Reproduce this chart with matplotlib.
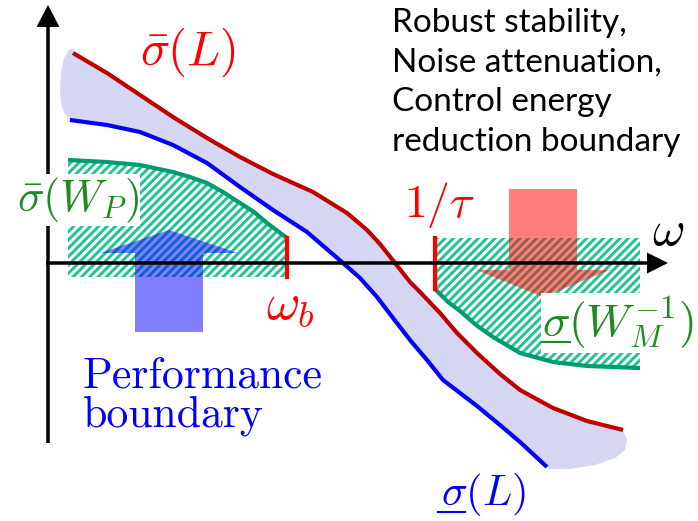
import numpy as np
import matplotlib
matplotlib.use('Agg')
import matplotlib.pyplot as plt
from matplotlib.patches import FancyArrow

plt.rcParams['mathtext.fontset'] = 'cm'
plt.rcParams['hatch.linewidth'] = 2.1

# curves (pixel coords, y downwards)
sig_max_x = [73, 107, 140, 173, 207, 240, 273, 313, 347, 367, 380, 395, 410, 420, 440, 457, 477, 500, 520, 553, 587, 623]
sig_max_y = [53, 73, 95, 117, 138, 157, 174, 192, 213, 230, 244, 263, 282, 292, 313, 333, 353, 374, 390, 408, 421, 430]
sig_min_x = [70, 107, 140, 173, 207, 240, 273, 307, 343, 360, 377, 393, 410, 427, 443, 460, 477, 500, 520, 547]
sig_min_y = [120, 125, 132, 145, 163, 187, 210, 232, 263, 278, 297, 318, 340, 360, 380, 393, 406, 425, 442, 467]
# rounded ends of the shaded band
cap_right_x = [627, 625, 615, 595, 570, 550]
cap_right_y = [440, 450, 458, 465, 469, 469]
cap_left_x = [64, 61, 60, 61, 64, 69, 75]
cap_left_y = [113, 103, 90, 72, 58, 50, 48]

wp_x = [68, 107, 140, 173, 190, 207, 223, 240, 254, 267, 287]
wp_y = [160, 162, 165, 172, 177, 183, 192, 203, 212, 223, 238]
wm_x = [435, 448, 460, 476, 493, 520, 553, 587, 640]
wm_y = [289, 302, 311, 325, 337, 353, 362, 366, 368]

w_b = 287
inv_tau = 435
x_axis_y = 263
hatch_floor = 277
hatch_top = 238
hatch_right = 640

fig = plt.figure(figsize=(6.98, 5.21), dpi=100)
ax = fig.add_axes([0, 0, 1, 1])
ax.set_xlim(0, 698)
ax.set_ylim(521, 0)
ax.axis('off')

# shaded band between the singular values
band_x = sig_max_x + cap_right_x + sig_min_x[::-1] + cap_left_x
band_y = sig_max_y + cap_right_y + sig_min_y[::-1] + cap_left_y
ax.fill(band_x, band_y, color='#d5d6f2', lw=0, zorder=1)

# hatched boundary regions
teal = '#1fc493'
ax.fill(wp_x + [w_b, wp_x[0]], wp_y + [hatch_floor, hatch_floor],
        facecolor='none', edgecolor=teal, hatch='////', lw=0, zorder=2)
ax.fill([inv_tau, hatch_right] + wm_x[::-1], [hatch_top, hatch_top] + wm_y[::-1],
        facecolor='none', edgecolor=teal, hatch='////', lw=0, zorder=2)

# curves
kw = dict(lw=3, zorder=4, solid_capstyle='butt', solid_joinstyle='round')
ax.plot(sig_max_x, sig_max_y, color='#c00000', **kw)
ax.plot(sig_min_x, sig_min_y, color='#0000ff', **kw)
ax.plot(wp_x, wp_y, color='#009b72', **kw)
ax.plot(wm_x, wm_y, color='#009b72', **kw)

# frequency markers
ax.plot([w_b, w_b], [hatch_top, hatch_floor], color='#ff0000', lw=3, zorder=5)
ax.plot([inv_tau, inv_tau], [hatch_top, wm_y[0]], color='#ff0000', lw=3, zorder=5)

# big arrows
ax.add_patch(FancyArrow(169, 332, 0, -102, width=68, head_width=137, head_length=23,
                        length_includes_head=True, color='#0000ff', alpha=0.5, lw=0, zorder=3))
ax.add_patch(FancyArrow(543, 189, 0, 108, width=68, head_width=133, head_length=27,
                        length_includes_head=True, color='#ff0000', alpha=0.5, lw=0, zorder=3))

# axes
ax.add_patch(FancyArrow(48, 443, 0, -438, width=3.5, head_width=23, head_length=22,
                        length_includes_head=True, color='black', lw=0, zorder=6))
ax.add_patch(FancyArrow(46, x_axis_y, 622, 0, width=3.5, head_width=21, head_length=21,
                        length_includes_head=True, color='black', lw=0, zorder=6))

white = dict(facecolor='white', edgecolor='none', pad=1)
ax.text(188, 52, r'$\bar{\sigma}(L)$', color='#ff0000', fontsize=35, ha='center', va='center', zorder=7)
ax.text(78, 200, r'$\bar{\sigma}(W_P)$', color='#1f8a1f', fontsize=32, ha='center', va='center',
        bbox=white, zorder=7)
ax.text(290, 305, r'$\omega_b$', color='#ff0000', fontsize=37, ha='center', va='center', zorder=7)
ax.text(440, 205, r'$1/\tau$', color='#ff0000', fontsize=33, ha='center', va='center', zorder=7)
ax.text(668, 231, r'$\omega$', color='black', fontsize=36, ha='center', va='center', zorder=7)
ax.text(618, 323, r'$\sigma(W_M^{-1})$', color='#1f8a1f', fontsize=33, ha='center', va='center',
        bbox=white, zorder=7)
ax.plot([542, 570], [342, 342], color='#1f8a1f', lw=1.5, zorder=8)
ax.text(484, 495, r'$\sigma(L)$', color='#0000ff', fontsize=31, ha='center', va='center', zorder=7)
ax.plot([438, 465], [512, 512], color='#0000ff', lw=1.5, zorder=8)

ax.text(83, 388, 'Performance', family='cmr10', color='#0000ff', fontsize=31.5, ha='left', va='baseline')
ax.text(83, 426, 'boundary', family='cmr10', color='#0000ff', fontsize=31.5, ha='left', va='baseline')

ax.text(392, 8, 'Robust stability,\nNoise attenuation,\nControl energy\nreduction boundary',
        family='Lato', fontsize=24, color='black', ha='left', va='top', linespacing=1.4)

fig.savefig('out.png', dpi=100)
